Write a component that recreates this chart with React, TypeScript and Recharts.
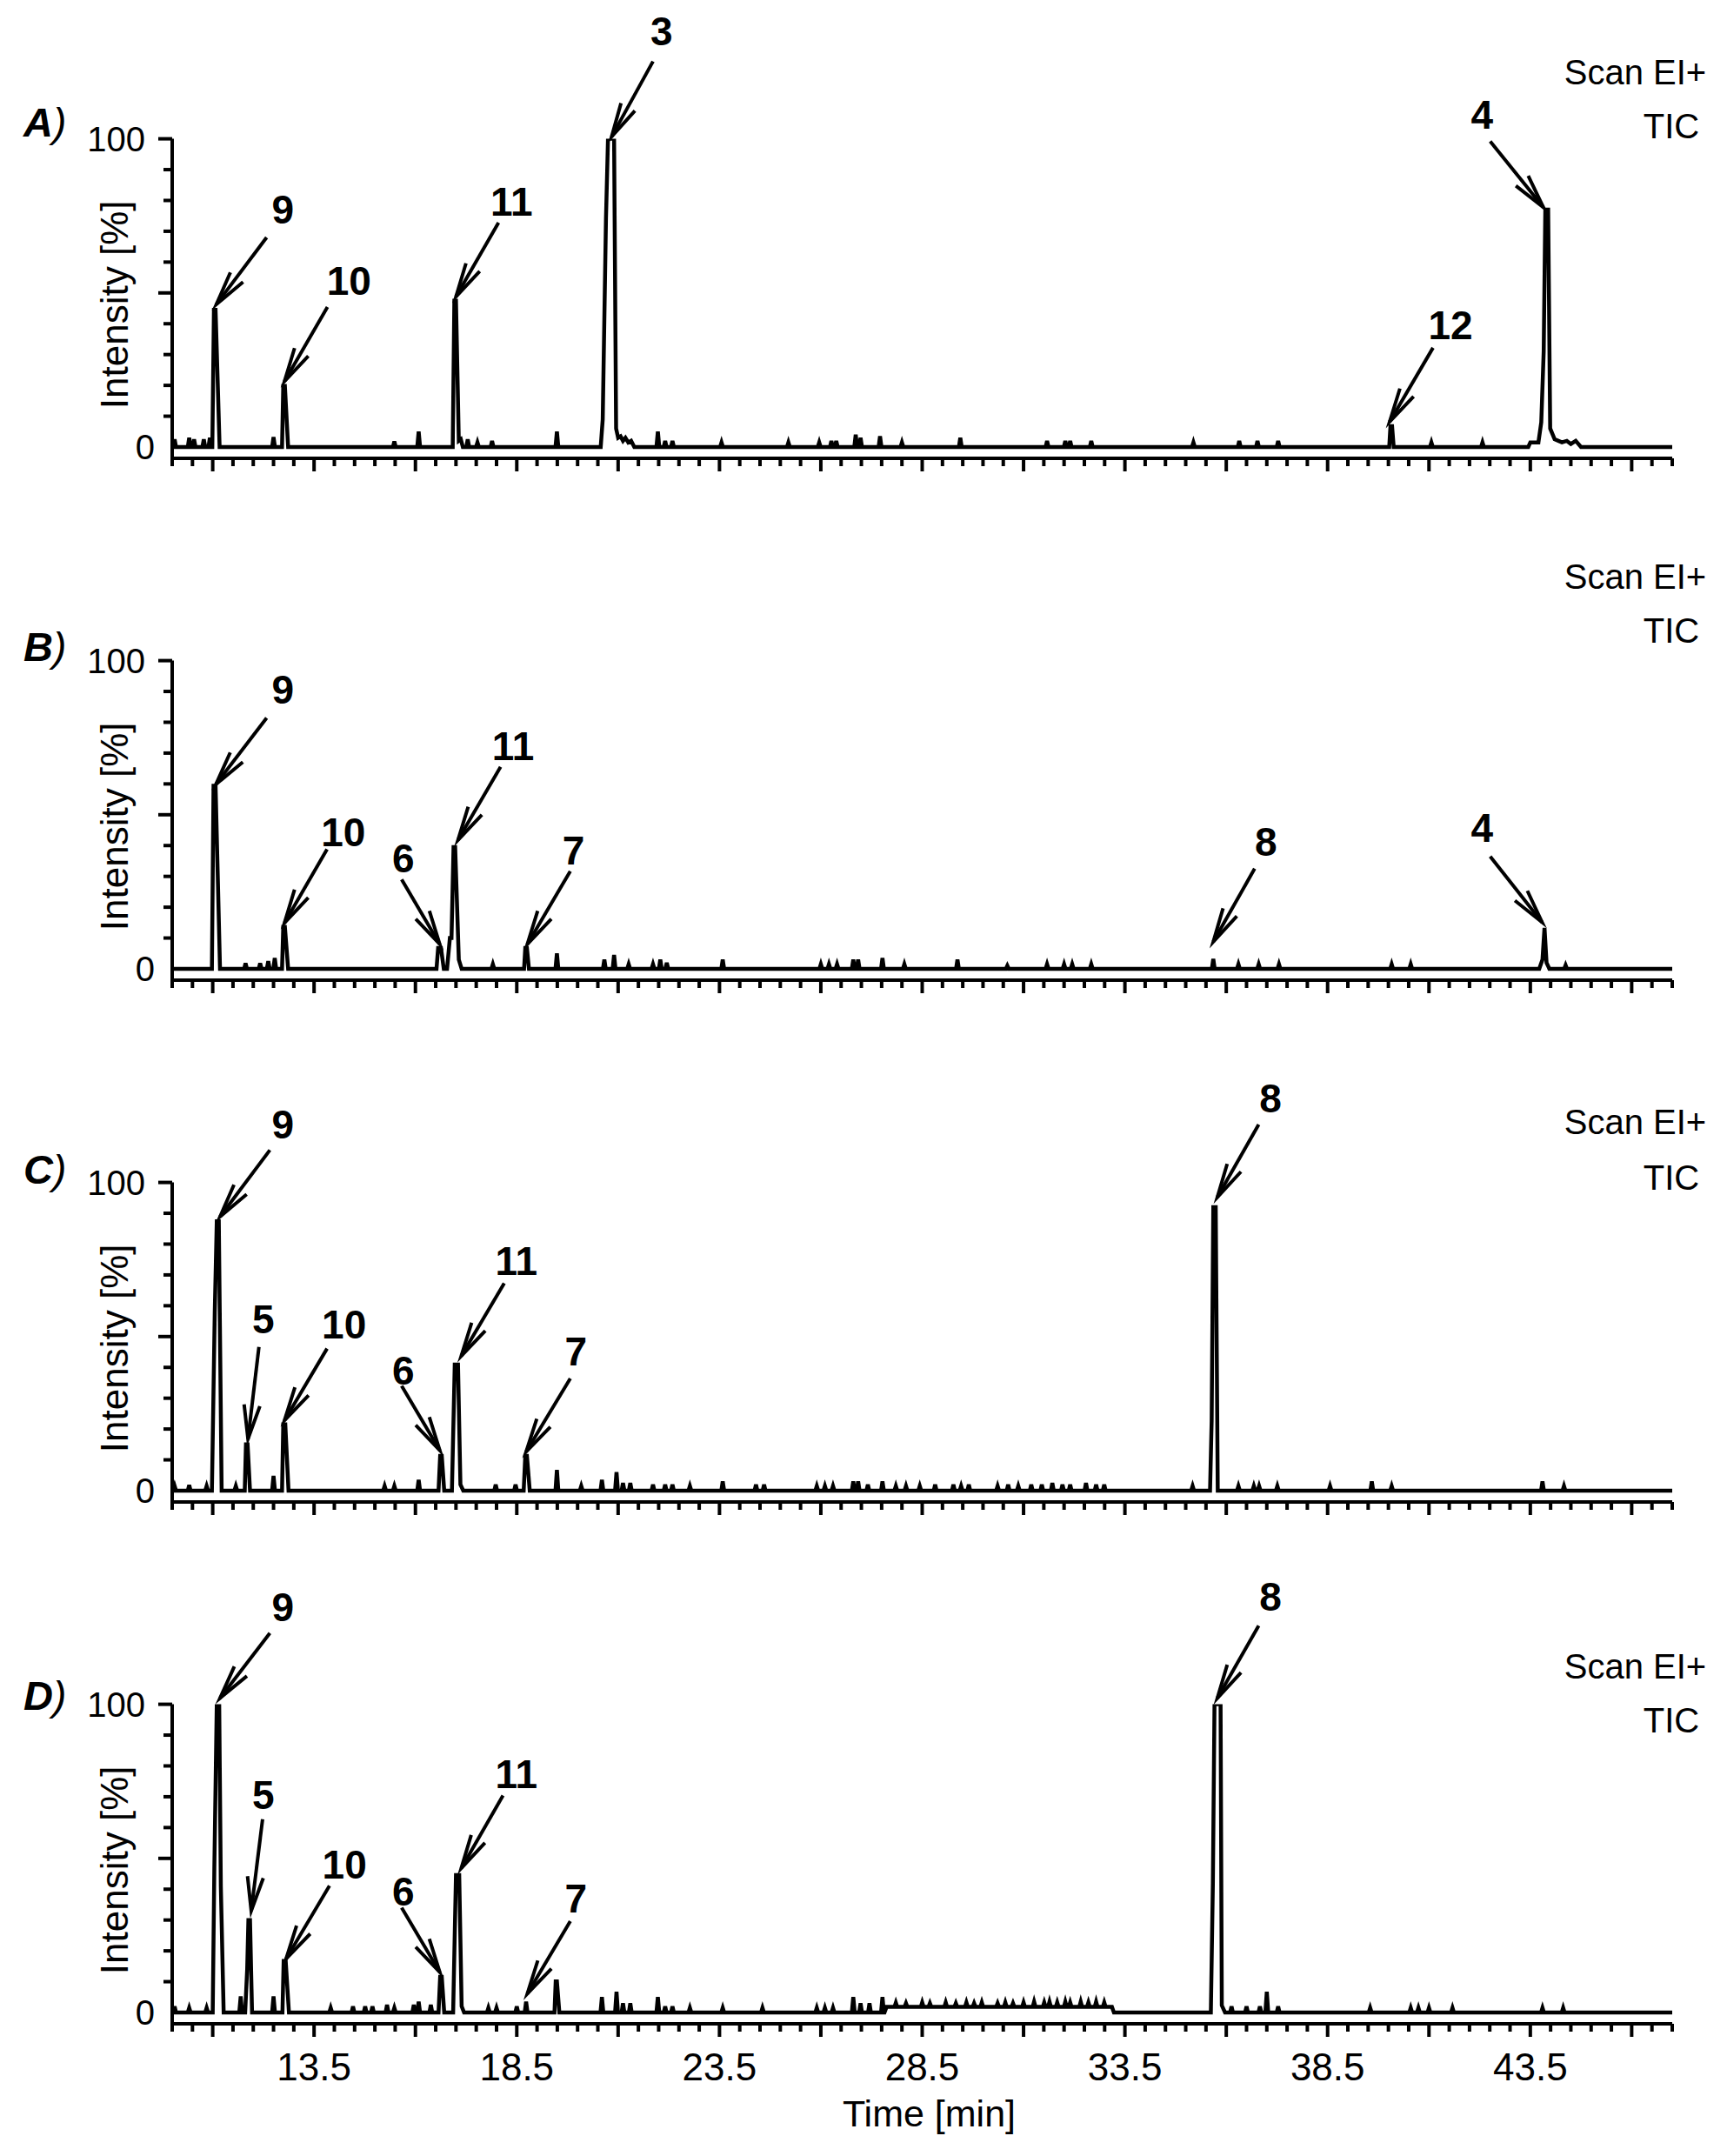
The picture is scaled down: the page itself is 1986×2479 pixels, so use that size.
import React from 'react';
import { LineChart, Line, XAxis, YAxis, ReferenceLine, ReferenceDot, Label } from 'recharts';

const FONT = '"Liberation Sans", Arial, Helvetica, sans-serif';

type Pt = [number, number];
type Arrow = { label: string; tip: Pt; tail: Pt; at: Pt };

// ---------- axes ----------
const X_MIN = 10;
const X_MAX = 47;
const X_MINOR_STEP = 0.5;
const xMajor = [11, 13.5, 16, 18.5, 21, 23.5, 26, 28.5, 31, 33.5, 36, 38.5, 41, 43.5, 46];
const xLabeled = [13.5, 18.5, 23.5, 28.5, 33.5, 38.5, 43.5];
const yTicks = [0, 10, 20, 30, 40, 50, 60, 70, 80, 90, 100];
const yMajor = [50, 100];
const yLabeled = [0, 100];
const Y_MIN = -3.67;
const Y_MAX = 100;

// ---------- panel A ----------
const peaksA: Pt[][] = [
  [[10.99, 0], [11.03, 44.5], [11.07, 44.5], [11.17, 0]],
  [[12.71, 0], [12.74, 19.8], [12.78, 19.8], [12.86, 0]],
  [[16.92, 0], [16.96, 47.5], [17.0, 47.5], [17.07, 2], [17.12, 2.5], [17.17, 0]],
  [[20.57, 0], [20.62, 9], [20.7, 74], [20.75, 100], [20.9, 100], [20.95, 6], [21.0, 3], [21.06, 3.5], [21.12, 2], [21.18, 3], [21.25, 1.5], [21.32, 2], [21.4, 0]],
  [[40.02, 0], [40.05, 6.8], [40.09, 6.8], [40.13, 0]],
  [[43.45, 0], [43.5, 1.5], [43.7, 1.5], [43.77, 8], [43.83, 31], [43.87, 77], [43.94, 77], [43.99, 6], [44.1, 2.5], [44.28, 1.5], [44.4, 2], [44.5, 1], [44.62, 2], [44.75, 0]],
];
const bumpsA: Pt[] = [
  [10.06, 2.5], [10.42, 3], [10.54, 2.5], [10.78, 2.5], [10.93, 3], [12.5, 3.2], [15.48, 1.8], [16.08, 5],
  [17.29, 2.5], [17.53, 1.5], [17.89, 2], [19.49, 5], [21.98, 5], [22.16, 2], [22.34, 2], [23.55, 1.5],
  [25.2, 1.5], [25.96, 1.5], [26.26, 2], [26.38, 2], [26.86, 4], [26.98, 3], [27.46, 3.5], [28.0, 1.5],
  [29.44, 3], [31.58, 2], [32.03, 2], [32.15, 2], [32.67, 2], [35.19, 1.5], [36.32, 2], [36.77, 2],
  [37.28, 2], [41.06, 1.5], [42.32, 1.5],
];
const raisedA: [number, number, number][] = [];
const arrowsA: Arrow[] = [
  { label: '9', tip: [11.09, 46.3], tail: [12.33, 68], at: [12.73, 77] },
  { label: '10', tip: [12.77, 21.3], tail: [13.83, 45.4], at: [14.36, 54] },
  { label: '11', tip: [17.0, 48.8], tail: [18.05, 72.8], at: [18.37, 79.6] },
  { label: '3', tip: [20.84, 100.7], tail: [21.86, 125.1], at: [22.07, 134.8] },
  { label: '12', tip: [40.03, 8.2], tail: [41.1, 32.2], at: [41.53, 39.5] },
  { label: '4', tip: [43.82, 77.8], tail: [42.51, 99.2], at: [42.31, 107.8] },
];

// ---------- panel B ----------
const peaksB: Pt[][] = [
  [[10.98, 0], [11.02, 59.4], [11.07, 59.4], [11.18, 0]],
  [[12.71, 0], [12.74, 13.6], [12.78, 13.6], [12.86, 0]],
  [[16.52, 0], [16.56, 6.8], [16.63, 6.8], [16.7, 0]],
  [[16.78, 0], [16.85, 10], [16.89, 10], [16.94, 39.5], [16.98, 39.5], [17.07, 3], [17.14, 0]],
  [[18.68, 0], [18.71, 6.8], [18.75, 6.8], [18.8, 0]],
  [[43.72, 0], [43.8, 3], [43.85, 13.3], [43.9, 2], [43.97, 0]],
];
const bumpsB: Pt[] = [
  [11.81, 1.8], [12.17, 1.8], [12.37, 2.5], [12.53, 3.5], [17.91, 1.5], [19.49, 5], [20.66, 3], [20.9, 4.5],
  [21.26, 1.5], [21.86, 1.5], [22.04, 3], [22.2, 2], [23.58, 3], [26.0, 1.5], [26.2, 1.5], [26.4, 1.5],
  [26.8, 3], [26.92, 3], [27.52, 3.5], [28.06, 1.5], [29.37, 3], [30.6, 1], [31.58, 1.5], [32.0, 1.5],
  [32.2, 1.5], [32.67, 1.5], [35.68, 3.2], [36.3, 1.5], [36.8, 1.5], [37.3, 1.5], [40.08, 1.5], [40.55, 1.5],
  [44.37, 1.2],
];
const raisedB: [number, number, number][] = [];
const arrowsB: Arrow[] = [
  { label: '9', tip: [11.08, 59.9], tail: [12.33, 81.4], at: [12.73, 90.7] },
  { label: '10', tip: [12.77, 14.9], tail: [13.82, 38.8], at: [14.22, 44.3] },
  { label: '6', tip: [16.6, 8.0], tail: [15.66, 29], at: [15.7, 36] },
  { label: '11', tip: [17.05, 41.8], tail: [18.1, 65.5], at: [18.41, 72.3] },
  { label: '7', tip: [18.76, 8], tail: [19.82, 31.7], at: [19.9, 38.5] },
  { label: '8', tip: [35.68, 8.8], tail: [36.7, 32.5], at: [36.98, 41.3] },
  { label: '4', tip: [43.79, 15.1], tail: [42.51, 36.5], at: [42.31, 45.8] },
];

// ---------- panel C ----------
const peaksC: Pt[][] = [
  [[10.98, 0], [11.05, 57.7], [11.1, 87.4], [11.15, 87.4], [11.22, 0]],
  [[11.79, 0], [11.82, 15], [11.86, 15], [11.92, 0]],
  [[12.71, 0], [12.74, 21.5], [12.79, 21.5], [12.87, 0]],
  [[16.57, 0], [16.61, 11.3], [16.65, 11.3], [16.71, 0]],
  [[16.9, 0], [16.97, 40.9], [17.05, 40.9], [17.11, 2], [17.18, 0]],
  [[18.67, 0], [18.71, 11.3], [18.75, 11.3], [18.82, 0]],
  [[35.6, 0], [35.64, 22.7], [35.68, 92], [35.74, 92], [35.79, 0]],
];
const bumpsC: Pt[] = [
  [10.06, 1.5], [10.42, 1.8], [10.85, 1.5], [11.57, 1.5], [12.5, 4.8], [15.24, 1.5], [15.48, 1.5], [16.08, 3.5],
  [17.98, 2], [18.47, 2], [19.49, 6.7], [20.09, 1.5], [20.6, 3.5], [20.96, 6], [21.12, 2.5], [21.3, 2.5],
  [21.86, 2], [22.16, 2], [22.34, 2], [22.77, 1.5], [23.58, 3], [24.4, 2], [24.6, 2], [25.9, 1.5],
  [26.1, 1.5], [26.3, 1.5], [26.8, 3], [26.92, 3], [27.16, 2], [27.52, 3], [27.85, 1.5], [28.1, 1.5],
  [28.44, 1.5], [28.82, 2], [29.27, 2], [29.46, 1.5], [29.65, 2], [30.36, 1.5], [30.62, 2], [30.87, 1.5],
  [31.19, 2], [31.45, 2], [31.71, 2.5], [31.96, 2], [32.15, 2], [32.54, 2.5], [32.79, 2], [32.99, 2],
  [35.17, 1.5], [36.3, 1.5], [36.68, 1.5], [36.81, 1.5], [37.26, 1.5], [38.56, 1.5], [39.59, 3], [40.08, 1.5],
  [43.8, 3], [44.33, 1.5],
];
const raisedC: [number, number, number][] = [];
const arrowsC: Arrow[] = [
  { label: '9', tip: [11.18, 88.9], tail: [12.41, 110.5], at: [12.73, 118.7] },
  { label: '5', tip: [11.87, 16.8], tail: [12.14, 46.6], at: [12.25, 55.6] },
  { label: '10', tip: [12.77, 22.8], tail: [13.82, 46.1], at: [14.24, 53.9] },
  { label: '6', tip: [16.6, 13.1], tail: [15.66, 34], at: [15.7, 39.1] },
  { label: '11', tip: [17.13, 43.7], tail: [18.19, 67.3], at: [18.49, 74.5] },
  { label: '7', tip: [18.73, 12.6], tail: [19.82, 36.4], at: [19.96, 45.3] },
  { label: '8', tip: [35.78, 95.2], tail: [36.8, 118.8], at: [37.09, 127.3] },
];

// ---------- panel D ----------
const peaksD: Pt[][] = [
  [[11.0, 0], [11.04, 47], [11.1, 100], [11.16, 100], [11.2, 41], [11.27, 0]],
  [[11.8, 0], [11.85, 14], [11.88, 30], [11.92, 30], [11.97, 0]],
  [[12.72, 0], [12.75, 16.7], [12.8, 16.7], [12.88, 0]],
  [[16.57, 0], [16.61, 11.6], [16.65, 11.6], [16.71, 0]],
  [[16.93, 0], [17.0, 44.6], [17.08, 44.6], [17.14, 2], [17.2, 0]],
  [[19.43, 0], [19.46, 10.1], [19.49, 10.1], [19.55, 0]],
  [[35.62, 0], [35.67, 42], [35.71, 100], [35.86, 100], [35.89, 2.3], [35.97, 0]],
];
const bumpsD: Pt[] = [
  [10.06, 2], [10.42, 1.5], [10.85, 1.5], [11.69, 5.2], [12.5, 5.2], [13.91, 1.5], [14.46, 2], [14.76, 2],
  [14.94, 2], [15.3, 2.5], [15.48, 1.5], [15.96, 2.5], [16.08, 3.5], [16.38, 2.5], [17.8, 1.5], [18.0, 1.5],
  [18.5, 2], [18.73, 3.5], [20.6, 5], [20.96, 6.7], [21.12, 3], [21.3, 3], [21.98, 5], [22.16, 2],
  [22.34, 2], [22.77, 1.5], [23.58, 1.5], [24.56, 1.5], [25.9, 1.5], [26.1, 1.5], [26.3, 1.5], [26.8, 5],
  [26.98, 3], [27.2, 3], [27.52, 5], [27.85, 3.2], [28.1, 3], [28.5, 3.3], [28.69, 3], [29.08, 3.3],
  [29.33, 3], [29.59, 3.3], [29.78, 3], [29.97, 3.3], [30.36, 3], [30.55, 3.3], [30.74, 3], [31.0, 3.3],
  [31.26, 3.5], [31.51, 3.3], [31.64, 3.5], [31.83, 3.3], [32.03, 3.5], [32.15, 3.3], [32.41, 3.5], [32.6, 3.3],
  [32.79, 3.5], [32.99, 3.3], [36.13, 2], [36.5, 2], [36.83, 2], [37.0, 6.7], [37.28, 2], [39.55, 1.5],
  [40.55, 1.5], [40.74, 1.5], [41.0, 1.5], [41.58, 1.5], [43.8, 1.5], [44.31, 1.5],
];
const raisedD: [number, number, number][] = [[27.62, 33.18, 1.8]];
const arrowsD: Arrow[] = [
  { label: '9', tip: [11.18, 102], tail: [12.41, 123.1], at: [12.73, 131.5] },
  { label: '5', tip: [11.95, 33], tail: [12.23, 62.7], at: [12.25, 70.6] },
  { label: '10', tip: [12.81, 17.4], tail: [13.88, 41.1], at: [14.25, 48.1] },
  { label: '6', tip: [16.6, 13.1], tail: [15.66, 34], at: [15.7, 39.3] },
  { label: '11', tip: [17.13, 46.8], tail: [18.16, 70.4], at: [18.49, 77.4] },
  { label: '7', tip: [18.76, 6.1], tail: [19.82, 29.6], at: [19.96, 37] },
  { label: '8', tip: [35.78, 102], tail: [36.8, 125.5], at: [37.09, 135] },
];

// ---------- panel header texts (data coords) ----------
const panelTitles = ['A', 'B', 'C', 'D'];
const scanText = 'Scan EI+';
const ticText = 'TIC';
const headerLayout = [
  { title: [6.33, 100.7], scan: [47.84, 117.7], tic: [47.67, 100.2] },
  { title: [6.33, 99.9], scan: [47.84, 123.3], tic: [47.67, 105.8] },
  { title: [6.33, 99.6], scan: [47.84, 115.7], tic: [47.67, 97.6] },
  { title: [6.33, 98.2], scan: [47.84, 108.4], tic: [47.67, 90.9] },
];

// ---------- build trace table ----------
function buildTrace(profiles: Pt[][], bumps: Pt[], raised: [number, number, number][]) {
  const level = (t: number) => {
    for (const [a, b, l] of raised) if (t >= a && t <= b) return l;
    return 0;
  };
  const pts: Pt[] = [[X_MIN, 0], [X_MAX, 0]];
  raised.forEach(([a, b, l]) => {
    pts.push([a - 0.05, 0], [a, l], [b, l], [b + 0.05, 0]);
  });
  profiles.forEach((p) => pts.push(...p));
  bumps.forEach(([t, h]) => {
    const b = level(t);
    pts.push([t - 0.035, b], [t, h], [t + 0.035, b]);
  });
  pts.sort((p, q) => p[0] - q[0]);
  return pts.map(([t, v]) => ({ t, v }));
}

const panels = [
  { data: buildTrace(peaksA, bumpsA, raisedA), arrows: arrowsA },
  { data: buildTrace(peaksB, bumpsB, raisedB), arrows: arrowsB },
  { data: buildTrace(peaksC, bumpsC, raisedC), arrows: arrowsC },
  { data: buildTrace(peaksD, bumpsD, raisedD), arrows: arrowsD },
];

const xTicksAll: number[] = [];
for (let v = X_MIN; v <= X_MAX + 1e-9; v += X_MINOR_STEP) xTicksAll.push(Math.round(v * 10) / 10);

const has = (arr: number[], v: number) => arr.some((a) => Math.abs(a - v) < 1e-6);

// ---------- custom renderers ----------
const XTick = (props: any) => {
  const { x, y, payload, showLabels } = props;
  const v = payload.value;
  const major = has(xMajor, v);
  const lab = showLabels && has(xLabeled, v);
  return (
    <g>
      <line x1={x} x2={x} y1={y} y2={y + (major ? 15 : 9)} stroke="#000" strokeWidth={4} />
      {lab && (
        <text x={x} y={y + 65} textAnchor="middle" fontSize={44} fontFamily={FONT} fill="#000">
          {String(v)}
        </text>
      )}
    </g>
  );
};

const YTick = (props: any) => {
  const { x, y, payload } = props;
  const v = payload.value;
  const major = has(yMajor, v);
  return (
    <g>
      {v !== 0 && <line x1={x - (major ? 16 : 10)} x2={x} y1={y} y2={y} stroke="#000" strokeWidth={4} />}
      {has(yLabeled, v) && (
        <text x={x - (v === 0 ? 20 : 31)} y={y} dy="0.355em" textAnchor="end" fontSize={40} fontFamily={FONT} fill="#000">
          {String(v)}
        </text>
      )}
    </g>
  );
};

const ArrowShape = (props: any) => {
  const { x1, y1, x2, y2 } = props;
  const ang = Math.atan2(y1 - y2, x1 - x2);
  const len = 40;
  const spread = 0.23;
  const b1x = x2 + len * Math.cos(ang + spread);
  const b1y = y2 + len * Math.sin(ang + spread);
  const b2x = x2 + len * Math.cos(ang - spread);
  const b2y = y2 + len * Math.sin(ang - spread);
  return (
    <g stroke="#000" strokeWidth={4} fill="none">
      <line x1={x1} y1={y1} x2={x2} y2={y2} />
      <polyline points={`${b1x},${b1y} ${x2},${y2} ${b2x},${b2y}`} strokeLinejoin="miter" strokeMiterlimit={20} />
    </g>
  );
};

const peakLabel = (text: string) => (props: any) => (
  <text x={props.cx} y={props.cy} dy="0.35em" textAnchor="middle" fontSize={46} fontWeight="bold" fontFamily={FONT} fill="#000">
    {text}
  </text>
);

const titleShape = (letter: string) => (props: any) => (
  <text x={props.cx} y={props.cy} textAnchor="start" fontSize={47} fontStyle="italic" fontFamily={FONT} fill="#000">
    <tspan fontWeight="bold">{letter}</tspan>
    <tspan fontWeight="normal">)</tspan>
  </text>
);

const rightText = (text: string) => (props: any) => (
  <text x={props.cx} y={props.cy} textAnchor="end" fontSize={40} fontFamily={FONT} fill="#000">
    {text}
  </text>
);

const yTitle = (props: any) => {
  const vb = props.viewBox || { x: 0, y: 159.6, width: 198, height: 367.4 };
  const cx = vb.x + 147;
  const cy = vb.y + vb.height / 2 + 7;
  return (
    <text transform={`translate(${cx},${cy}) rotate(-90)`} textAnchor="middle" fontSize={44} fontFamily={FONT} fill="#000">
      Intensity [%]
    </text>
  );
};

const xTitle = (props: any) => {
  const vb = props.viewBox || { x: 198, y: 527, width: 1725, height: 152 };
  return (
    <text x={vb.x + vb.width / 2 + 8} y={vb.y + 117.5} textAnchor="middle" fontSize={43} fontFamily={FONT} fill="#000">
      Time [min]
    </text>
  );
};

export default function App() {
  return (
    <div style={{ position: 'absolute', left: 0, top: 0, width: 1986, height: 2479, background: '#fff' }}>
      {panels.map((p, i) => {
        const last = i === panels.length - 1;
        const h = last ? 679 : 600;
        const hl = headerLayout[i];
        return (
          <div key={i} style={{ position: 'absolute', left: 0, top: 600 * i }}>
            <LineChart width={1986} height={h} data={p.data} margin={{ top: 159.6, right: 63, left: 0, bottom: 0 }}>
              <XAxis
                type="number"
                dataKey="t"
                domain={[X_MIN, X_MAX]}
                allowDataOverflow
                ticks={xTicksAll}
                interval={0}
                tickSize={0}
                tickMargin={0}
                tickLine={false}
                axisLine={{ stroke: '#000', strokeWidth: 4 }}
                tick={<XTick showLabels={last} />}
                height={h - 527}
                label={last ? <Label content={xTitle} /> : undefined}
              />
              <YAxis
                type="number"
                domain={[Y_MIN, Y_MAX]}
                allowDataOverflow
                ticks={yTicks}
                interval={0}
                width={198}
                tickSize={0}
                tickMargin={0}
                tickLine={false}
                axisLine={{ stroke: '#000', strokeWidth: 4 }}
                tick={<YTick />}
                label={<Label content={yTitle} />}
              />
              <Line
                dataKey="v"
                type="linear"
                stroke="#000"
                strokeWidth={4.5}
                dot={false}
                activeDot={false}
                isAnimationActive={false}
              />
              {p.arrows.map((a, k) => (
                <ReferenceLine
                  key={'ar' + k}
                  segment={[{ x: a.tail[0], y: a.tail[1] }, { x: a.tip[0], y: a.tip[1] }]}
                  ifOverflow="visible"
                  shape={ArrowShape}
                />
              ))}
              {p.arrows.map((a, k) => (
                <ReferenceDot key={'lb' + k} x={a.at[0]} y={a.at[1]} r={1} ifOverflow="visible" shape={peakLabel(a.label)} />
              ))}
              <ReferenceDot x={hl.title[0]} y={hl.title[1]} r={1} ifOverflow="visible" shape={titleShape(panelTitles[i])} />
              <ReferenceDot x={hl.scan[0]} y={hl.scan[1]} r={1} ifOverflow="visible" shape={rightText(scanText)} />
              <ReferenceDot x={hl.tic[0]} y={hl.tic[1]} r={1} ifOverflow="visible" shape={rightText(ticText)} />
            </LineChart>
          </div>
        );
      })}
    </div>
  );
}
